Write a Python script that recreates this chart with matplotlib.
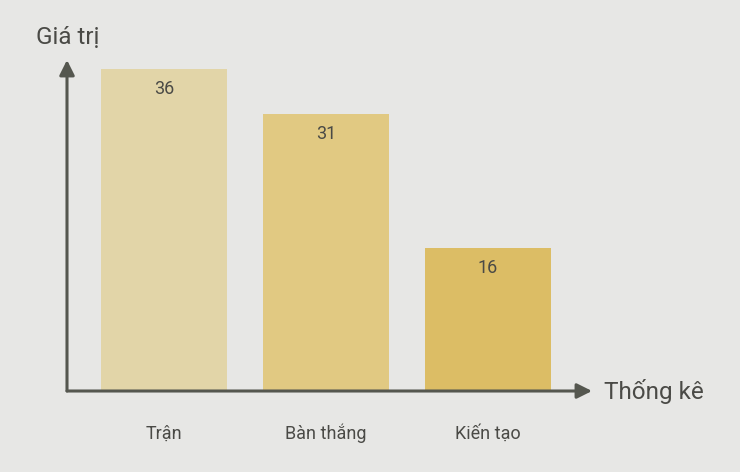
import matplotlib
matplotlib.use("Agg")
import matplotlib.pyplot as plt

categories = ["Trận", "Bàn thắng", "Kiến tạo"]
values = [36, 31, 16]
colors = ["#e2d5a8", "#e1c982", "#dcbd65"]

plt.rcParams['font.family'] = ['Roboto', 'DejaVu Sans']
bg = "#e7e7e5"
txt = "#4a4a46"
axc = "#55574f"

fig = plt.figure(figsize=(7.4, 4.72), dpi=100, facecolor=bg)
W, H = 740, 472
x0, x1, y0, y1 = 67, 592, 391, 60
ax = fig.add_axes([x0 / W, 1 - y0 / H, (x1 - x0) / W, (y0 - y1) / H])
ax.set_facecolor(bg)
ax.patch.set_alpha(0)

xs = list(range(len(categories)))
ax.bar(xs, values, width=0.778, color=colors, zorder=2)
ax.set_xlim(-0.599, 2.642)
ax.set_ylim(0, 37.02)

for x, v in zip(xs, values):
    ax.annotate(str(v), (x, v), xytext=(0, -14.3), textcoords="offset points",
                ha="center", va="center", fontsize=13, color=txt)

for s in ax.spines.values():
    s.set_visible(False)
ax.set_xticks([])
ax.set_yticks([])

for x, c in zip(xs, categories):
    ax.annotate(c, (x, 0), xytext=(0, -30.5), textcoords="offset points",
                ha="center", va="center", fontsize=13, color=txt)

# axes with arrows
for tip in [(1.0, 0), (0, 1.0)]:
    ax.annotate("", xy=tip, xytext=(0, 0), xycoords="axes fraction",
                arrowprops=dict(arrowstyle="-|>,head_length=0.9,head_width=0.45",
                                color=axc, lw=2.2, shrinkA=0, shrinkB=0), zorder=3,
                annotation_clip=False)

fig.text(604 / W, 1 - 391 / H, "Thống kê", ha="left", va="center", fontsize=17.5, color=txt)
fig.text(68 / W, 1 - 38 / H, "Giá trị", ha="center", va="center", fontsize=17.5, color=txt)

fig.savefig("out.png", dpi=100, facecolor=bg)
